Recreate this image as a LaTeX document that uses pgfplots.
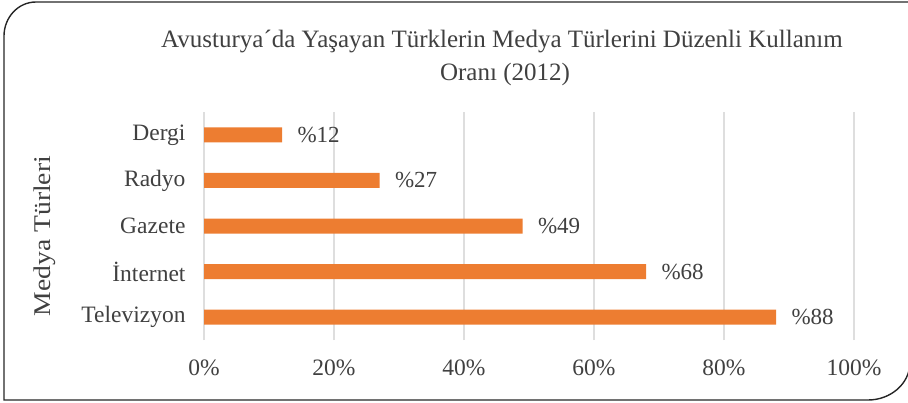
\documentclass[border=0pt]{standalone}
\usepackage{pgfplots}
\pgfplotsset{compat=1.18}
\usepackage{fontspec}
\setmainfont{Liberation Serif}
\definecolor{barc}{HTML}{ED7D31}
\definecolor{txt}{HTML}{404040}
\begin{document}
\begin{tikzpicture}[x=1pt,y=1pt]
\useasboundingbox (0,0) rectangle (908,402);
\draw[line width=1.4pt, black!85] (920,400) -- (36,400) to[out=180,in=90] (4,366) -- (4,2) -- (868,2) to[out=0,in=-90] (910,40);
\node[anchor=base, text=txt, font=\fontsize{25}{28}\selectfont] at (502,354) {Avusturya´da Yaşayan Türklerin Medya Türlerini Düzenli Kullanım};
\node[anchor=base, text=txt, font=\fontsize{25}{28}\selectfont] at (505,321) {Oranı (2012)};
\node[rotate=90, text=txt, font=\fontsize{24}{27}\selectfont] at (45,166) {\scalebox{1.15}[1]{Medya Türleri}};
\begin{axis}[
  at={(204pt,62pt)}, anchor=south west,
  scale only axis, width=650pt, height=228pt,
  xbar, bar width=15pt,
  xmin=0, xmax=100, ymin=-0.5, ymax=4.5,
  xtick={0,20,40,60,80,100},
  xticklabel={\pgfmathprintnumber{\tick}\%},
  ytick={0,1,2,3,4},
  yticklabels={Televizyon,İnternet,Gazete,Radyo,Dergi},
  /pgf/number format/assume math mode=true,
  xmajorgrids, grid style={line width=1.1pt, black!13},
  axis line style={draw=none},
  major tick length=0pt,
  tick label style={text=txt, font=\fontsize{23.5}{26}\selectfont},
  yticklabel style={xshift=-15pt},
  xticklabel style={yshift=-16pt},
  nodes near coords={\%\pgfmathprintnumber{\pgfplotspointmeta}},
  nodes near coords align={horizontal},
  every node near coord/.append style={text=txt, font=\fontsize{23}{26}\selectfont, xshift=12pt},
  clip=false,
]
\addplot[fill=barc, draw=none] coordinates {(88,0) (68,1) (49,2) (27,3) (12,4)};
\end{axis}
\end{tikzpicture}
\end{document}
